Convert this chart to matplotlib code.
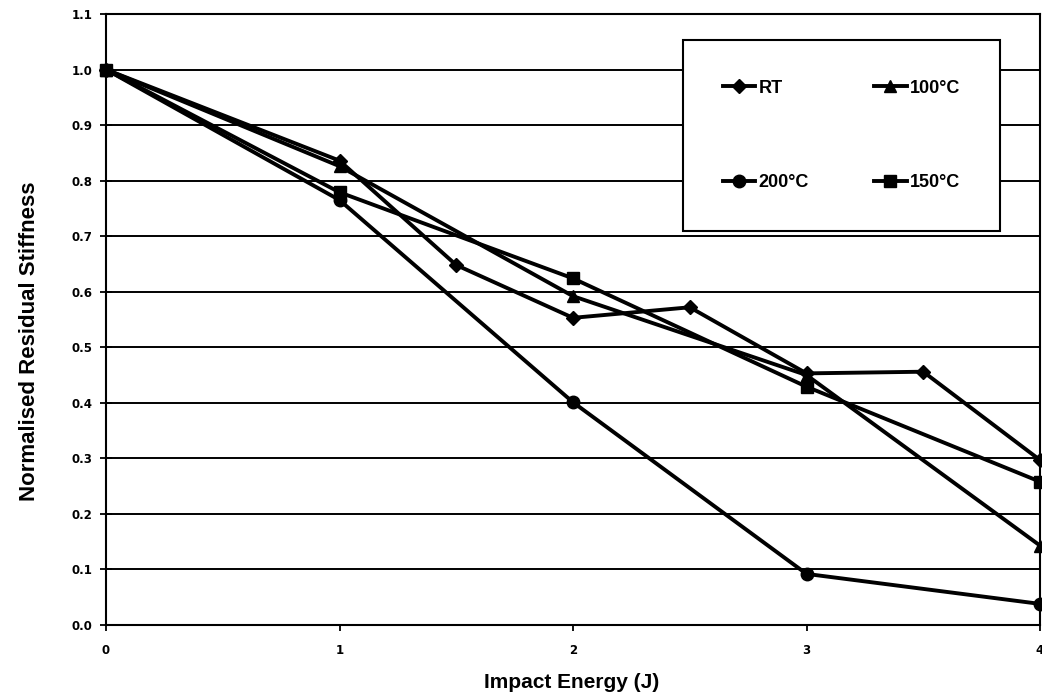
import matplotlib
matplotlib.use("Agg")
import matplotlib.pyplot as plt
from matplotlib.ticker import MultipleLocator, FormatStrFormatter

plt.rcParams['font.family'] = ['Liberation Sans', 'DejaVu Sans']
plt.rcParams['font.weight'] = 'bold'

# Residual stiffness after impact, normalised to the undamaged value
rt_energy = [0, 1, 1.5, 2, 2.5, 3, 3.5, 4]
rt_stiff = [1.0, 0.836, 0.648, 0.553, 0.572, 0.453, 0.456, 0.297]

t100_energy = [0, 1, 2, 3, 4]
t100_stiff = [1.0, 0.826, 0.592, 0.450, 0.143]

t200_energy = [0, 1, 2, 3, 4]
t200_stiff = [1.0, 0.765, 0.401, 0.092, 0.038]

t150_energy = [0, 1, 2, 3, 4]
t150_stiff = [1.0, 0.779, 0.624, 0.429, 0.258]

W, H = 1042, 698
fig = plt.figure(figsize=(W / 100, H / 100), dpi=100)
ax = fig.add_axes([106 / W, 1 - 625 / H, (1040 - 106) / W, (625 - 14) / H])

common = dict(color='black', lw=2.8, clip_on=False, zorder=3)
l_rt, = ax.plot(rt_energy, rt_stiff, marker='D', markersize=7.5, label='RT', **common)
l_100, = ax.plot(t100_energy, t100_stiff, marker='^', markersize=9, label='100°C', **common)
l_200, = ax.plot(t200_energy, t200_stiff, marker='o', markersize=9, label='200°C', **common)
l_150, = ax.plot(t150_energy, t150_stiff, marker='s', markersize=8, label='150°C', **common)

ax.set_xlim(0, 4)
ax.set_ylim(0, 1.1)
ax.xaxis.set_major_locator(MultipleLocator(1))
ax.yaxis.set_major_locator(MultipleLocator(0.1))
ax.yaxis.set_major_formatter(FormatStrFormatter('%.1f'))
ax.grid(axis='y', color='black', lw=1.4, zorder=1)
ax.set_axisbelow(True)
for s in ax.spines.values():
    s.set_linewidth(1.5)
    s.set_color('black')
ax.tick_params(axis='y', direction='inout', length=8, width=1.3, pad=6)
ax.tick_params(axis='x', direction='out', length=4, width=1.3, pad=10)
for lab in ax.get_xticklabels() + ax.get_yticklabels():
    lab.set_fontweight('bold')
    lab.set_fontfamily('DejaVu Sans')
    lab.set_fontsize(8.5)

fig.text(572 / W, 1 - 683 / H, 'Impact Energy (J)', fontsize=15, fontweight='bold',
         ha='center', va='center')
fig.text(30 / W, 1 - 341 / H, 'Normalised Residual Stiffness', fontsize=16,
         fontweight='bold', rotation=90, ha='center', va='center')

leg = ax.legend([l_rt, l_200, l_100, l_150], ['RT', '200°C', '100°C', '150°C'],
                ncol=2, loc='upper left',
                bbox_to_anchor=((683 - 106) / (1040 - 106), 1 - (40 - 14) / (625 - 14)),
                fontsize=13, handlelength=1.8, handletextpad=0.2, labelspacing=4.3,
                columnspacing=3.6, borderpad=2.2, borderaxespad=0, fancybox=False,
                framealpha=1, edgecolor='black')
leg.get_frame().set_linewidth(1.5)
for t in leg.get_texts():
    t.set_fontweight('bold')

fig.savefig('out.png', dpi=100)
